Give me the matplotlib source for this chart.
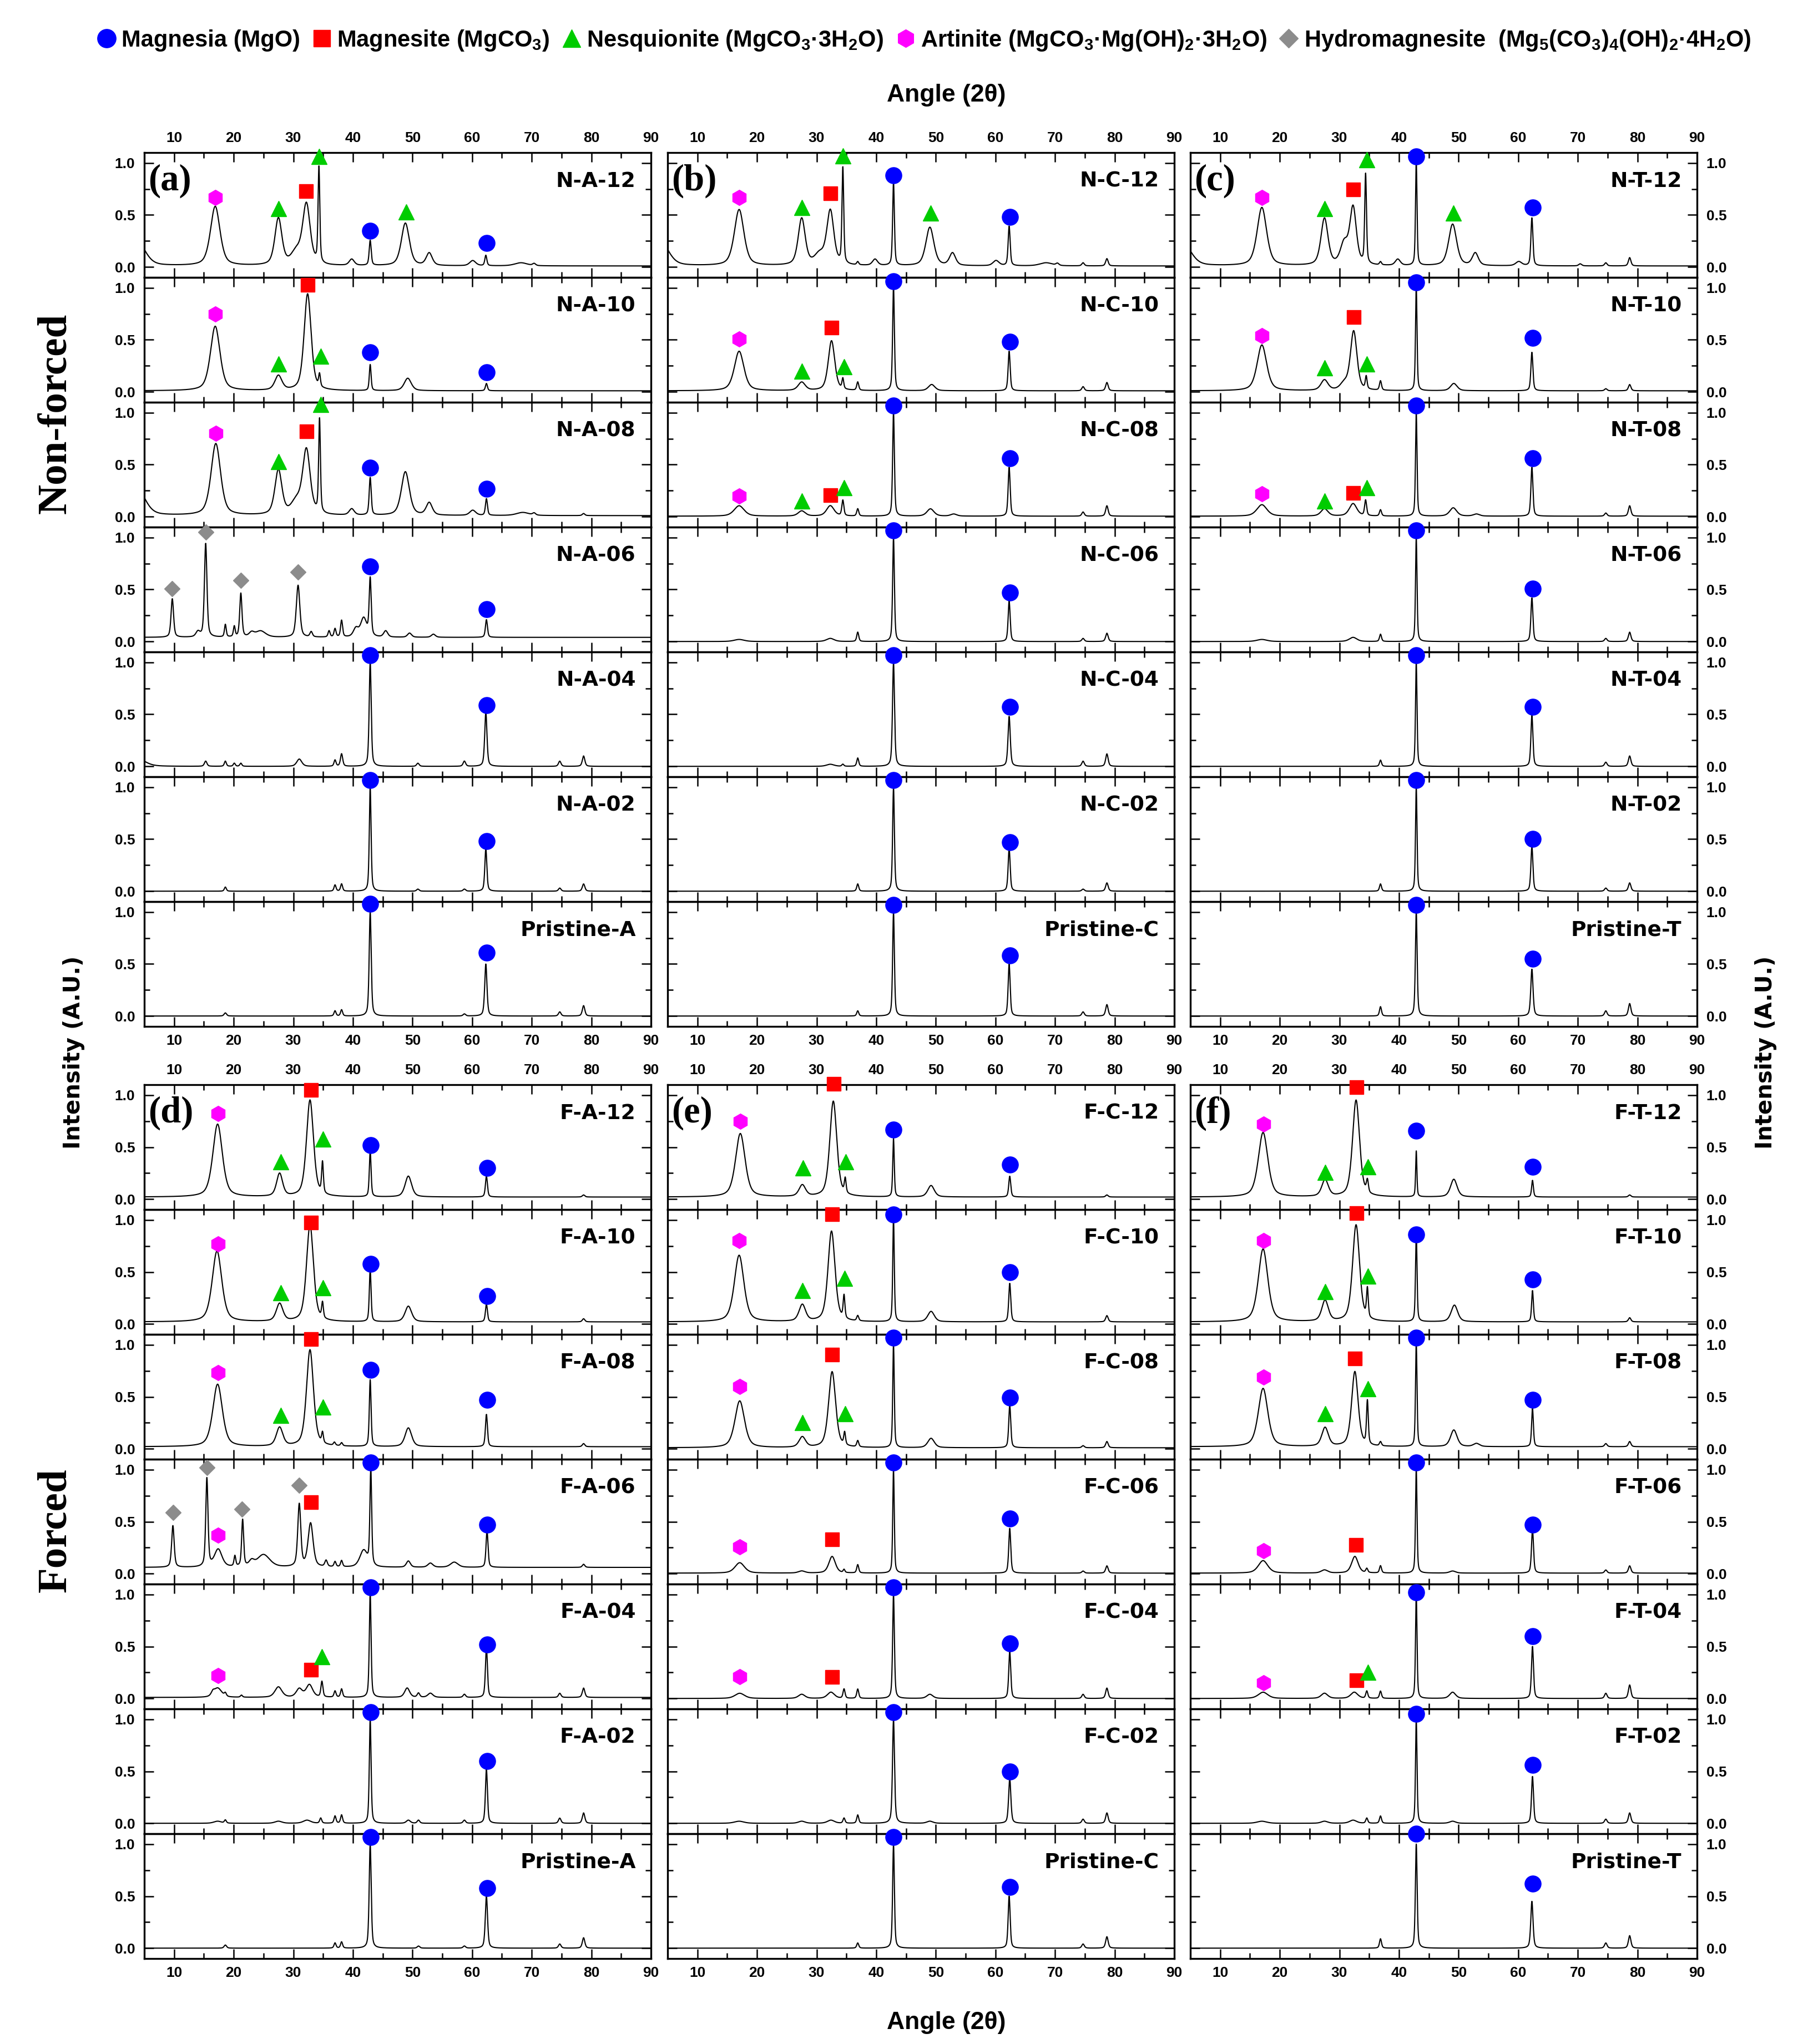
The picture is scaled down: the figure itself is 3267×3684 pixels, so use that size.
import numpy as np
import matplotlib
matplotlib.use('Agg')
import matplotlib.pyplot as plt
from matplotlib.lines import Line2D
from matplotlib.ticker import MultipleLocator, FixedLocator

plt.rcParams['font.family'] = ['Liberation Sans', 'DejaVu Sans']
plt.rcParams['font.weight'] = 'bold'
plt.rcParams['mathtext.fontset'] = 'custom'
plt.rcParams['mathtext.rm'] = 'Liberation Sans:bold'
plt.rcParams['mathtext.bf'] = 'Liberation Sans:bold'
plt.rcParams['mathtext.default'] = 'bf'

# ---------------- data ----------------
# phase codes: M=Magnesia, C=Magnesite, N=Nesquehonite, A=Artinite, H=Hydromagnesite
phase_codes = ['M', 'C', 'N', 'A', 'H']
phase_labels = ['Magnesia (MgO)',
                'Magnesite (MgCO$_3$)',
                'Nesquionite (MgCO$_3$·3H$_2$O)',
                'Artinite (MgCO$_3$·Mg(OH)$_2$·3H$_2$O)',
                'Hydromagnesite  (Mg$_5$(CO$_3$)$_4$(OH)$_2$·4H$_2$O)']

# each pattern: list of (2theta, height, fwhm); markers: (phase, 2theta, intensity)
a_labels = ['N-A-12', 'N-A-10', 'N-A-08', 'N-A-06', 'N-A-04', 'N-A-02', 'Pristine-A']
a_base = [0.01, 0.01, 0.01, 0.04, 0.0, 0.0, 0.0]
a_peaks = [
    [(4.0, 0.22, 3.0), (16.9, 0.57, 1.9), (27.5, 0.45, 1.4), (30.5, 0.12, 2.0), (32.2, 0.58, 1.5),
     (34.3, 0.92, 0.35), (39.8, 0.06, 1.0), (42.9, 0.24, 0.4), (48.8, 0.41, 1.6), (52.8, 0.12, 1.2),
     (60.1, 0.05, 1.2), (62.3, 0.10, 0.4), (68.2, 0.03, 2.5), (70.4, 0.02, 0.6)],
    [(16.9, 0.62, 1.9), (27.5, 0.14, 1.4), (32.4, 0.93, 1.4), (34.4, 0.12, 0.35), (42.9, 0.25, 0.35),
     (49.2, 0.12, 1.4), (62.4, 0.07, 0.4)],
    [(4.0, 0.24, 3.0), (17.0, 0.69, 1.9), (27.5, 0.43, 1.4), (30.5, 0.12, 2.0), (32.2, 0.62, 1.5),
     (34.4, 0.90, 0.35), (39.8, 0.06, 1.0), (42.9, 0.36, 0.4), (48.8, 0.42, 1.6), (52.8, 0.12, 1.2),
     (60.1, 0.05, 1.2), (62.4, 0.16, 0.4), (68.5, 0.03, 2.5), (70.4, 0.02, 0.6), (78.7, 0.02, 0.5)],
    [(9.7, 0.37, 0.5), (14.0, 0.05, 0.8), (15.3, 0.90, 0.5), (18.6, 0.12, 0.35), (20.1, 0.10, 0.35),
     (21.2, 0.42, 0.45), (23.0, 0.04, 1.0), (24.5, 0.06, 2.0), (30.8, 0.50, 0.7), (33.0, 0.05, 0.5),
     (36.0, 0.06, 0.4), (37.0, 0.08, 0.4), (38.1, 0.16, 0.4), (40.5, 0.08, 1.0), (41.8, 0.18, 1.2),
     (42.9, 0.55, 0.4), (45.5, 0.06, 0.8), (49.5, 0.04, 0.8), (53.5, 0.03, 0.8), (62.4, 0.17, 0.4)],
    [(4.0, 0.07, 3.0), (15.3, 0.05, 0.5), (18.6, 0.05, 0.4), (20.1, 0.03, 0.4), (21.2, 0.03, 0.4),
     (31.0, 0.07, 1.0), (37.0, 0.06, 0.4), (38.1, 0.12, 0.45), (42.9, 1.0, 0.4), (50.9, 0.03, 0.5),
     (58.7, 0.05, 0.5), (62.3, 0.52, 0.45), (74.7, 0.05, 0.5), (78.7, 0.10, 0.5)],
    [(18.6, 0.04, 0.4), (37.0, 0.06, 0.4), (38.1, 0.07, 0.4), (42.9, 1.0, 0.35), (50.9, 0.02, 0.5),
     (58.7, 0.02, 0.5), (62.3, 0.41, 0.4), (74.7, 0.03, 0.5), (78.7, 0.07, 0.5)],
    [(18.6, 0.03, 0.5), (37.0, 0.05, 0.4), (38.1, 0.06, 0.4), (42.9, 1.0, 0.4), (58.7, 0.02, 0.5),
     (62.3, 0.50, 0.45), (74.7, 0.04, 0.5), (78.7, 0.10, 0.5)],
]
a_marks = [
    [('A', 16.9, 0.67), ('N', 27.5, 0.56), ('C', 32.1, 0.73), ('N', 34.3, 1.06), ('M', 42.9, 0.35),
     ('N', 48.9, 0.53), ('M', 62.4, 0.23)],
    [('A', 16.9, 0.75), ('N', 27.5, 0.27), ('C', 32.4, 1.03), ('N', 34.6, 0.34), ('M', 42.9, 0.38),
     ('M', 62.4, 0.19)],
    [('A', 17.0, 0.80), ('N', 27.5, 0.53), ('C', 32.2, 0.82), ('N', 34.6, 1.08), ('M', 42.9, 0.47),
     ('M', 62.4, 0.27)],
    [('H', 9.7, 0.51), ('H', 15.3, 1.05), ('H', 21.2, 0.59), ('H', 30.8, 0.67), ('M', 42.9, 0.72),
     ('M', 62.4, 0.31)],
    [('M', 42.9, 1.07), ('M', 62.4, 0.59)],
    [('M', 42.9, 1.07), ('M', 62.4, 0.48)],
    [('M', 42.9, 1.08), ('M', 62.4, 0.61)],
]

b_labels = ['N-C-12', 'N-C-10', 'N-C-08', 'N-C-06', 'N-C-04', 'N-C-02', 'Pristine-C']
b_base = [0.01, 0.01, 0.005, 0.0, 0.0, 0.0, 0.0]
b_peaks = [
    [(4.0, 0.22, 3.0), (17.0, 0.54, 1.9), (27.5, 0.45, 1.4), (30.5, 0.10, 2.0), (32.3, 0.52, 1.4),
     (34.4, 0.92, 0.35), (36.9, 0.03, 0.4), (39.8, 0.06, 1.0), (42.9, 0.80, 0.35), (49.0, 0.37, 1.6),
     (52.8, 0.12, 1.2), (60.1, 0.05, 1.2), (62.3, 0.38, 0.4), (68.5, 0.03, 2.5), (70.4, 0.02, 0.6),
     (74.7, 0.03, 0.5), (78.7, 0.07, 0.5)],
    [(17.0, 0.38, 1.9), (27.5, 0.08, 1.4), (32.5, 0.48, 1.3), (34.4, 0.10, 0.35), (36.9, 0.08, 0.4),
     (42.9, 1.0, 0.35), (49.3, 0.06, 1.3), (62.3, 0.38, 0.4), (74.7, 0.04, 0.5), (78.7, 0.08, 0.5)],
    [(17.0, 0.10, 2.0), (27.5, 0.05, 1.4), (32.3, 0.10, 1.5), (34.4, 0.15, 0.4), (36.9, 0.07, 0.4),
     (42.9, 1.0, 0.35), (49.1, 0.07, 1.4), (53.0, 0.02, 1.2), (62.3, 0.47, 0.4), (74.7, 0.04, 0.5),
     (78.7, 0.10, 0.5)],
    [(17.0, 0.02, 2.0), (32.3, 0.03, 1.5), (36.9, 0.09, 0.4), (42.9, 1.0, 0.35), (62.3, 0.39, 0.4),
     (74.7, 0.03, 0.5), (78.7, 0.08, 0.5)],
    [(32.3, 0.02, 1.5), (34.4, 0.02, 0.4), (36.9, 0.08, 0.4), (42.9, 1.0, 0.4), (62.3, 0.48, 0.45),
     (74.7, 0.05, 0.5), (78.7, 0.12, 0.5)],
    [(36.9, 0.07, 0.4), (42.9, 1.0, 0.35), (62.3, 0.41, 0.4), (74.7, 0.02, 0.5), (78.7, 0.08, 0.5)],
    [(36.9, 0.05, 0.4), (42.9, 1.0, 0.35), (62.3, 0.50, 0.4), (74.7, 0.04, 0.5), (78.7, 0.11, 0.5)],
]
b_marks = [
    [('A', 17.0, 0.67), ('N', 27.5, 0.57), ('C', 32.3, 0.71), ('N', 34.4, 1.07), ('M', 42.9, 0.88),
     ('N', 49.1, 0.52), ('M', 62.4, 0.48)],
    [('A', 17.0, 0.51), ('N', 27.5, 0.20), ('C', 32.5, 0.62), ('N', 34.6, 0.24), ('M', 42.9, 1.06),
     ('M', 62.4, 0.48)],
    [('A', 17.0, 0.20), ('N', 27.5, 0.15), ('C', 32.3, 0.21), ('N', 34.6, 0.28), ('M', 42.9, 1.07),
     ('M', 62.4, 0.56)],
    [('M', 42.9, 1.07), ('M', 62.4, 0.47)],
    [('M', 42.9, 1.07), ('M', 62.4, 0.57)],
    [('M', 42.9, 1.07), ('M', 62.4, 0.47)],
    [('M', 42.9, 1.07), ('M', 62.4, 0.58)],
]

c_labels = ['N-T-12', 'N-T-10', 'N-T-08', 'N-T-06', 'N-T-04', 'N-T-02', 'Pristine-T']
c_base = [0.01, 0.01, 0.005, 0.0, 0.0, 0.0, 0.0]
c_peaks = [
    [(4.0, 0.20, 3.0), (17.0, 0.56, 1.9), (27.5, 0.45, 1.4), (30.8, 0.20, 1.5), (32.3, 0.55, 1.3),
     (34.4, 0.86, 0.35), (36.9, 0.03, 0.4), (39.8, 0.06, 1.0), (42.9, 1.0, 0.3), (49.0, 0.40, 1.6),
     (52.8, 0.12, 1.2), (60.1, 0.04, 1.2), (62.3, 0.46, 0.4), (70.4, 0.02, 0.6), (74.7, 0.03, 0.5),
     (78.7, 0.08, 0.5)],
    [(17.0, 0.44, 1.9), (27.5, 0.10, 1.4), (30.8, 0.06, 1.5), (32.4, 0.57, 1.3), (34.5, 0.12, 0.35),
     (36.9, 0.09, 0.4), (42.9, 1.0, 0.3), (49.2, 0.07, 1.3), (62.3, 0.37, 0.4), (74.7, 0.02, 0.5),
     (78.7, 0.06, 0.5)],
    [(17.0, 0.11, 2.0), (27.5, 0.07, 1.4), (32.3, 0.12, 1.5), (34.4, 0.15, 0.4), (36.9, 0.06, 0.4),
     (42.9, 1.0, 0.3), (49.1, 0.08, 1.4), (53.0, 0.02, 1.2), (62.3, 0.47, 0.4), (74.7, 0.03, 0.5),
     (78.7, 0.10, 0.5)],
    [(17.0, 0.02, 2.0), (32.3, 0.04, 1.5), (36.9, 0.07, 0.4), (42.9, 1.0, 0.3), (62.3, 0.42, 0.4),
     (74.7, 0.03, 0.5), (78.7, 0.09, 0.5)],
    [(36.9, 0.06, 0.4), (42.9, 1.0, 0.3), (62.3, 0.49, 0.4), (74.7, 0.04, 0.5), (78.7, 0.10, 0.5)],
    [(36.9, 0.07, 0.4), (42.9, 1.0, 0.3), (62.3, 0.43, 0.4), (74.7, 0.03, 0.5), (78.7, 0.08, 0.5)],
    [(36.9, 0.09, 0.4), (42.9, 1.0, 0.35), (62.3, 0.45, 0.45), (74.7, 0.05, 0.5), (78.7, 0.12, 0.5)],
]
c_marks = [
    [('A', 17.0, 0.67), ('N', 27.5, 0.56), ('C', 32.3, 0.75), ('N', 34.6, 1.03), ('M', 42.9, 1.06),
     ('N', 49.1, 0.52), ('M', 62.4, 0.57)],
    [('A', 17.0, 0.54), ('N', 27.5, 0.23), ('C', 32.4, 0.72), ('N', 34.6, 0.27), ('M', 42.9, 1.05),
     ('M', 62.4, 0.52)],
    [('A', 17.0, 0.22), ('N', 27.5, 0.15), ('C', 32.3, 0.23), ('N', 34.6, 0.28), ('M', 42.9, 1.07),
     ('M', 62.4, 0.56)],
    [('M', 42.9, 1.07), ('M', 62.4, 0.51)],
    [('M', 42.9, 1.07), ('M', 62.4, 0.57)],
    [('M', 42.9, 1.07), ('M', 62.4, 0.50)],
    [('M', 42.9, 1.07), ('M', 62.4, 0.55)],
]

d_labels = ['F-A-12', 'F-A-10', 'F-A-08', 'F-A-06', 'F-A-04', 'F-A-02', 'Pristine-A']
d_base = [0.02, 0.02, 0.02, 0.06, 0.01, 0.0, 0.0]
d_peaks = [
    [(17.3, 0.70, 1.9), (27.7, 0.22, 1.2), (32.8, 0.93, 1.4), (34.9, 0.30, 0.35), (42.9, 0.44, 0.35),
     (49.3, 0.20, 1.3), (62.4, 0.20, 0.4), (78.7, 0.02, 0.5)],
    [(17.2, 0.68, 1.9), (27.7, 0.17, 1.3), (32.8, 0.93, 1.4), (34.9, 0.15, 0.35), (42.9, 0.50, 0.35),
     (49.3, 0.15, 1.3), (62.4, 0.17, 0.4), (78.7, 0.03, 0.5)],
    [(17.3, 0.60, 1.9), (27.7, 0.18, 1.3), (32.8, 0.93, 1.4), (34.9, 0.10, 0.35), (36.9, 0.03, 0.4),
     (38.1, 0.03, 0.4), (42.9, 0.64, 0.35), (49.3, 0.18, 1.3), (62.4, 0.31, 0.4), (78.7, 0.03, 0.5)],
    [(9.8, 0.40, 0.5), (15.5, 0.85, 0.45), (17.4, 0.17, 1.5), (20.2, 0.10, 0.35), (21.5, 0.45, 0.4),
     (23.0, 0.05, 1.0), (25.0, 0.12, 2.5), (31.0, 0.60, 0.6), (32.9, 0.42, 1.0), (35.5, 0.06, 0.5),
     (37.0, 0.05, 0.4), (38.1, 0.06, 0.4), (41.8, 0.16, 1.5), (43.0, 0.92, 0.35), (49.3, 0.06, 0.8),
     (53.0, 0.04, 1.0), (57.0, 0.05, 1.5), (62.5, 0.35, 0.4), (78.7, 0.03, 0.5)],
    [(16.5, 0.03, 0.6), (17.3, 0.09, 1.6), (18.6, 0.03, 0.4), (21.3, 0.02, 0.4), (27.5, 0.10, 1.4),
     (31.0, 0.08, 1.2), (32.7, 0.12, 1.3), (34.8, 0.15, 0.4), (37.0, 0.06, 0.4), (38.1, 0.08, 0.4),
     (42.9, 1.0, 0.35), (49.1, 0.09, 1.0), (51.0, 0.04, 0.5), (53.0, 0.04, 1.0), (58.7, 0.03, 0.5),
     (62.4, 0.48, 0.4), (74.7, 0.04, 0.5), (78.7, 0.09, 0.5)],
    [(17.3, 0.02, 1.5), (18.6, 0.03, 0.4), (27.5, 0.02, 1.4), (32.3, 0.03, 1.5), (34.6, 0.05, 0.4),
     (37.0, 0.07, 0.4), (38.1, 0.08, 0.4), (42.9, 1.0, 0.35), (49.3, 0.03, 0.8), (51.0, 0.03, 0.5),
     (58.7, 0.03, 0.5), (62.4, 0.52, 0.4), (74.7, 0.05, 0.5), (78.7, 0.10, 0.5)],
    [(18.6, 0.03, 0.5), (37.0, 0.05, 0.4), (38.1, 0.06, 0.4), (42.9, 1.0, 0.4), (51.0, 0.02, 0.5),
     (58.7, 0.02, 0.5), (62.4, 0.50, 0.45), (74.7, 0.04, 0.5), (78.7, 0.10, 0.5)],
]
d_marks = [
    [('A', 17.4, 0.82), ('N', 27.9, 0.36), ('C', 32.9, 1.05), ('N', 35.0, 0.58), ('M', 43.0, 0.52),
     ('M', 62.5, 0.30)],
    [('A', 17.4, 0.77), ('N', 27.9, 0.30), ('C', 32.9, 0.98), ('N', 35.0, 0.35), ('M', 43.0, 0.58),
     ('M', 62.5, 0.27)],
    [('A', 17.4, 0.73), ('N', 27.9, 0.32), ('C', 32.9, 1.06), ('N', 35.0, 0.40), ('M', 43.0, 0.76),
     ('M', 62.5, 0.47)],
    [('H', 9.8, 0.59), ('H', 15.5, 1.02), ('A', 17.4, 0.37), ('H', 21.4, 0.62), ('H', 31.0, 0.85),
     ('C', 32.9, 0.69), ('M', 43.0, 1.07), ('M', 62.5, 0.47)],
    [('A', 17.4, 0.22), ('C', 32.9, 0.28), ('N', 34.8, 0.40), ('M', 43.0, 1.07), ('M', 62.5, 0.52)],
    [('M', 43.0, 1.07), ('M', 62.5, 0.60)],
    [('M', 43.0, 1.07), ('M', 62.5, 0.58)],
]

e_labels = ['F-C-12', 'F-C-10', 'F-C-08', 'F-C-06', 'F-C-04', 'F-C-02', 'Pristine-C']
e_base = [0.02, 0.02, 0.01, 0.005, 0.0, 0.0, 0.0]
e_peaks = [
    [(17.2, 0.61, 1.9), (27.6, 0.11, 1.3), (32.8, 0.92, 1.4), (34.8, 0.14, 0.35), (42.9, 0.56, 0.3),
     (49.2, 0.11, 1.3), (62.4, 0.20, 0.4), (78.7, 0.02, 0.5)],
    [(17.0, 0.64, 1.9), (27.6, 0.16, 1.3), (32.5, 0.87, 1.4), (34.6, 0.22, 0.35), (36.9, 0.05, 0.4),
     (42.9, 1.0, 0.3), (49.2, 0.10, 1.3), (62.4, 0.37, 0.4), (78.7, 0.06, 0.5)],
    [(17.1, 0.45, 1.9), (27.6, 0.10, 1.3), (32.6, 0.73, 1.4), (34.7, 0.12, 0.35), (36.9, 0.06, 0.4),
     (42.9, 1.0, 0.3), (49.2, 0.09, 1.3), (62.4, 0.41, 0.4), (74.7, 0.02, 0.5), (78.7, 0.06, 0.5)],
    [(17.1, 0.10, 1.9), (27.5, 0.02, 1.3), (32.6, 0.16, 1.3), (34.6, 0.03, 0.35), (36.9, 0.08, 0.4),
     (42.9, 1.0, 0.3), (62.4, 0.43, 0.4), (74.7, 0.02, 0.5), (78.7, 0.07, 0.5)],
    [(17.1, 0.05, 1.9), (27.5, 0.04, 1.3), (32.4, 0.06, 1.4), (34.6, 0.09, 0.4), (36.9, 0.09, 0.4),
     (42.9, 1.0, 0.35), (49.0, 0.04, 1.2), (62.4, 0.45, 0.4), (74.7, 0.04, 0.5), (78.7, 0.10, 0.5)],
    [(17.0, 0.02, 1.9), (27.5, 0.02, 1.3), (32.4, 0.03, 1.4), (34.6, 0.05, 0.4), (36.9, 0.08, 0.4),
     (42.9, 1.0, 0.4), (49.0, 0.02, 1.2), (62.4, 0.43, 0.45), (74.7, 0.04, 0.5), (78.7, 0.10, 0.5)],
    [(36.9, 0.05, 0.4), (42.9, 1.0, 0.35), (62.3, 0.50, 0.4), (74.7, 0.04, 0.5), (78.7, 0.11, 0.5)],
]
e_marks = [
    [('A', 17.2, 0.75), ('N', 27.7, 0.30), ('C', 32.8, 1.11), ('N', 34.9, 0.36), ('M', 42.9, 0.67),
     ('M', 62.4, 0.33)],
    [('A', 17.0, 0.80), ('N', 27.6, 0.32), ('C', 32.6, 1.06), ('N', 34.7, 0.44), ('M', 42.9, 1.05),
     ('M', 62.4, 0.50)],
    [('A', 17.1, 0.60), ('N', 27.6, 0.25), ('C', 32.6, 0.91), ('N', 34.8, 0.34), ('M', 42.9, 1.07),
     ('M', 62.4, 0.49)],
    [('A', 17.1, 0.26), ('C', 32.6, 0.33), ('M', 42.9, 1.07), ('M', 62.4, 0.53)],
    [('A', 17.1, 0.21), ('C', 32.6, 0.21), ('M', 42.9, 1.07), ('M', 62.4, 0.53)],
    [('M', 42.9, 1.07), ('M', 62.4, 0.50)],
    [('M', 42.9, 1.07), ('M', 62.4, 0.59)],
]

f_labels = ['F-T-12', 'F-T-10', 'F-T-08', 'F-T-06', 'F-T-04', 'F-T-02', 'Pristine-T']
f_base = [0.02, 0.02, 0.02, 0.005, 0.0, 0.0, 0.0]
f_peaks = [
    [(17.2, 0.62, 1.9), (27.6, 0.16, 1.3), (32.8, 0.93, 1.4), (34.7, 0.12, 0.4), (42.9, 0.44, 0.25),
     (49.2, 0.17, 1.3), (62.4, 0.16, 0.35), (78.7, 0.02, 0.5)],
    [(17.2, 0.70, 1.9), (27.6, 0.20, 1.3), (32.8, 0.93, 1.4), (34.7, 0.28, 0.35), (42.9, 0.86, 0.3),
     (49.3, 0.16, 1.3), (62.4, 0.30, 0.35), (78.7, 0.04, 0.5)],
    [(17.2, 0.56, 1.9), (27.6, 0.18, 1.3), (32.6, 0.72, 1.3), (34.7, 0.42, 0.35), (36.9, 0.04, 0.4),
     (42.9, 1.0, 0.3), (49.2, 0.16, 1.3), (53.0, 0.03, 1.2), (62.4, 0.37, 0.35), (74.7, 0.03, 0.5),
     (78.7, 0.05, 0.5)],
    [(17.2, 0.12, 1.9), (27.5, 0.03, 1.3), (32.6, 0.16, 1.3), (34.6, 0.04, 0.4), (36.9, 0.07, 0.4),
     (42.9, 1.0, 0.3), (49.0, 0.02, 1.2), (62.4, 0.42, 0.4), (74.7, 0.03, 0.5), (78.7, 0.07, 0.5)],
    [(17.2, 0.06, 1.9), (27.5, 0.05, 1.3), (32.5, 0.06, 1.4), (34.6, 0.07, 0.4), (36.9, 0.07, 0.4),
     (42.9, 1.0, 0.3), (49.0, 0.06, 1.2), (62.4, 0.50, 0.4), (74.7, 0.05, 0.5), (78.7, 0.13, 0.5)],
    [(17.0, 0.02, 1.9), (27.5, 0.02, 1.3), (32.3, 0.03, 1.4), (34.6, 0.05, 0.4), (36.9, 0.07, 0.4),
     (42.9, 1.0, 0.3), (49.0, 0.02, 1.2), (62.4, 0.45, 0.4), (74.7, 0.04, 0.5), (78.7, 0.10, 0.5)],
    [(36.9, 0.09, 0.4), (42.9, 1.0, 0.35), (62.3, 0.45, 0.45), (74.7, 0.05, 0.5), (78.7, 0.12, 0.5)],
]
f_marks = [
    [('A', 17.3, 0.72), ('N', 27.6, 0.26), ('C', 32.8, 1.08), ('N', 34.8, 0.31), ('M', 42.9, 0.66),
     ('M', 62.4, 0.31)],
    [('A', 17.3, 0.80), ('N', 27.6, 0.31), ('C', 32.8, 1.07), ('N', 34.8, 0.46), ('M', 42.9, 0.86),
     ('M', 62.4, 0.43)],
    [('A', 17.3, 0.69), ('N', 27.6, 0.34), ('C', 32.6, 0.87), ('N', 34.8, 0.58), ('M', 42.9, 1.07),
     ('M', 62.4, 0.47)],
    [('A', 17.3, 0.22), ('C', 32.7, 0.28), ('M', 42.9, 1.07), ('M', 62.4, 0.47)],
    [('A', 17.3, 0.15), ('C', 32.8, 0.18), ('N', 34.8, 0.25), ('M', 42.9, 1.02), ('M', 62.4, 0.60)],
    [('M', 42.9, 1.05), ('M', 62.4, 0.56)],
    [('M', 42.9, 1.10), ('M', 62.4, 0.62)],
]

panel_tags = ['(a)', '(b)', '(c)', '(d)', '(e)', '(f)']

# ---------------- styling ----------------
mk_shape = {'M': 'o', 'C': 's', 'N': '^', 'A': 'h', 'H': 'D'}
mk_color = {'M': '#0000FF', 'C': '#FF0000', 'N': '#00CC00', 'A': '#FF00FF', 'H': '#8C8C8C'}
mk_size = {'M': 21, 'C': 18, 'N': 20, 'A': 20, 'H': 14}

W, H = 3267, 3684
fig = plt.figure(figsize=(W / 100, H / 100), dpi=100)

col_x = [260, 1203, 2145]
col_w = 913
sec_top = [275, 1955]
row_h = 225

theta = np.arange(5, 90.001, 0.02)


def profile(peaks, base):
    # pseudo-Voigt sum
    y = np.full_like(theta, base)
    for c, h, w in peaks:
        d = ((theta - c) / (w / 2.0)) ** 2
        y += h * (0.5 / (1 + d) + 0.5 * np.exp(-np.log(2) * d))
    return y


panels = [(a_labels, a_base, a_peaks, a_marks), (b_labels, b_base, b_peaks, b_marks),
          (c_labels, c_base, c_peaks, c_marks), (d_labels, d_base, d_peaks, d_marks),
          (e_labels, e_base, e_peaks, e_marks), (f_labels, f_base, f_peaks, f_marks)]

for p, (labels, base, peaks, marks) in enumerate(panels):
    sec, col = p // 3, p % 3
    for r in range(7):
        y0 = sec_top[sec] + r * row_h
        ax = fig.add_axes([col_x[col] / W, 1 - (y0 + row_h) / H, col_w / W, row_h / H])
        ax.patch.set_alpha(0)
        ax.plot(theta, profile(peaks[r], base[r]), color='black', lw=1.5)
        for code, xm, ym in marks[r]:
            ax.plot([xm], [ym], ls='none', marker=mk_shape[code], ms=mk_size[code],
                    color=mk_color[code], mec=mk_color[code], clip_on=False, zorder=6)
        ax.set_xlim(5, 90)
        ax.set_ylim(-0.1, 1.1)
        ax.xaxis.set_major_locator(MultipleLocator(10))
        ax.xaxis.set_minor_locator(MultipleLocator(5))
        ax.yaxis.set_major_locator(FixedLocator([0.0, 0.5, 1.0]))
        ax.yaxis.set_minor_locator(FixedLocator([0.25, 0.75]))
        ax.yaxis.set_major_formatter(plt.FormatStrFormatter('%.1f'))
        ax.tick_params(which='both', direction='in', top=True, bottom=True, left=True, right=True,
                       labelbottom=(r == 6), labeltop=(r == 0),
                       labelleft=(col == 0), labelright=(col == 2), width=1.8)
        ax.tick_params(which='major', length=12, labelsize=19)
        ax.tick_params(which='minor', length=7)
        ax.tick_params(axis='x', pad=10)
        ax.tick_params(axis='y', pad=12)
        for s in ax.spines.values():
            s.set_linewidth(2.4)
        ax.text(0.97, 0.77, labels[r], transform=ax.transAxes, ha='right', va='center',
                fontsize=27, fontweight='bold', family=['DejaVu Sans'])
        if r == 0:
            ax.text(0.008, 0.91, panel_tags[p], transform=ax.transAxes, ha='left', va='top',
                    fontsize=48, fontweight='bold', family=['Liberation Serif'])

# figure-level texts
fig.text(1705 / W, 1 - 172 / H, 'Angle (2θ)', ha='center', va='center', fontsize=32, fontweight='bold')
fig.text(1705 / W, 1 - 3645 / H, 'Angle (2θ)', ha='center', va='center', fontsize=32, fontweight='bold')
fig.text(133 / W, 1 - 1897 / H, 'Intensity (A.U.)', rotation=90, ha='center', va='center',
         fontsize=29, fontweight='bold', family=['DejaVu Sans'])
fig.text(3182 / W, 1 - 1897 / H, 'Intensity (A.U.)', rotation=90, ha='center', va='center',
         fontsize=29, fontweight='bold', family=['DejaVu Sans'])
fig.text(100 / W, 1 - 745 / H, 'Non-forced', rotation=90, ha='center', va='center',
         fontsize=54, fontweight='bold', family=['Liberation Serif'])
fig.text(100 / W, 1 - 2758 / H, 'Forced', rotation=90, ha='center', va='center',
         fontsize=54, fontweight='bold', family=['Liberation Serif'])

handles = [Line2D([], [], ls='none', marker=mk_shape[c], ms=mk_size[c] + 3, color=mk_color[c])
           for c in phase_codes]
fig.legend(handles, phase_labels, loc='center', bbox_to_anchor=(1665 / W, 1 - 73 / H), ncol=5,
           frameon=False, fontsize=30, handletextpad=0.25, columnspacing=0.55, handlelength=0.8,
           borderaxespad=0)

fig.savefig('out.png', dpi=100)
